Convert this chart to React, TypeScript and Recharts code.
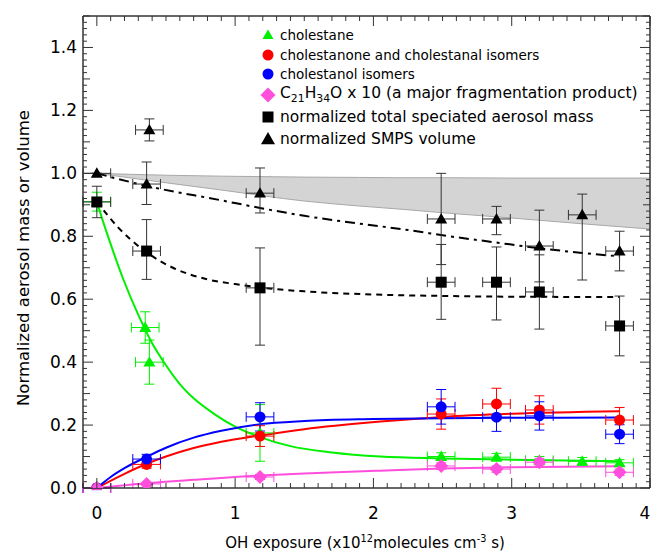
import React from 'react';
import { ComposedChart, Scatter, Line, Area, XAxis, YAxis, ErrorBar } from 'recharts';

const W = 652;
const H = 551;
const FONT = '"DejaVu Sans", Verdana, sans-serif';
const AXIS = '#333';
const GREEN = '#00f000';
const RED = '#ff0000';
const BLUE = '#0000ff';
const PINK = '#ff4fdc';
const BLACK = '#000';

// horizontal error of every measured point (OH exposure)
const XERR = 0.1;

// cholestane
const cholX = [0, 0.35, 0.38, 1.18, 2.49, 2.89, 3.2, 3.51, 3.78];
const cholY = [0.91, 0.51, 0.4, 0.175, 0.1, 0.098, 0.088, 0.085, 0.08];
const cholErr = [0.03, 0.05, 0.07, 0.09, 0.012, 0.012, 0.012, 0.012, 0.01];

// cholestanone and cholestanal isomers
const oneX = [0, 0.36, 1.18, 2.49, 2.89, 3.2, 3.78];
const oneY = [0, 0.075, 0.165, 0.235, 0.267, 0.248, 0.216];
const oneErr = [0.005, 0.012, 0.033, 0.048, 0.05, 0.045, 0.04];

// cholestanol isomers
const olX = [0, 0.36, 1.18, 2.49, 2.89, 3.2, 3.78];
const olY = [0, 0.092, 0.226, 0.258, 0.225, 0.229, 0.171];
const olErr = [0.005, 0.015, 0.045, 0.055, 0.045, 0.045, 0.03];

// C21H34O x 10
const fragX = [0, 0.36, 1.18, 2.49, 2.89, 3.2, 3.78];
const fragY = [0, 0.013, 0.035, 0.07, 0.06, 0.082, 0.05];
const fragErr = [0.005, 0.005, 0.008, 0.01, 0.01, 0.012, 0.01];

// normalized total speciated aerosol mass
const massX = [0, 0.36, 1.18, 2.49, 2.89, 3.2, 3.78];
const massY = [0.909, 0.753, 0.636, 0.654, 0.654, 0.623, 0.515];
const massErrLo = [0.05, 0.09, 0.182, 0.118, 0.12, 0.118, 0.095];
const massErrHi = [0.05, 0.1, 0.127, 0.12, 0.112, 0.118, 0.095];

// normalized SMPS volume
const volX = [0, 0.36, 0.38, 1.18, 2.49, 2.89, 3.2, 3.51, 3.78];
const volY = [1.0, 0.966, 1.138, 0.937, 0.855, 0.855, 0.769, 0.868, 0.753];
const volErrLo = [0, 0.065, 0.035, 0.063, 0.145, 0.05, 0.114, 0.207, 0.063];
const volErrHi = [0, 0.07, 0.035, 0.08, 0.145, 0.04, 0.114, 0.066, 0.063];

// fitted curves
const cholFitX = [0, 0.05, 0.1, 0.19, 0.3, 0.4, 0.5, 0.6, 0.7, 0.85, 1.0, 1.16, 1.4, 1.7, 2.05, 2.5, 3, 3.78];
const cholFitY = [0.91, 0.84, 0.775, 0.665, 0.55, 0.46, 0.39, 0.33, 0.285, 0.235, 0.195, 0.165, 0.133, 0.113, 0.1, 0.094, 0.09, 0.085];
const oneFitX = [0, 0.2, 0.36, 0.5, 0.7, 0.9, 1.18, 1.5, 2.05, 2.5, 3, 3.78];
const oneFitY = [0, 0.045, 0.077, 0.1, 0.127, 0.147, 0.167, 0.187, 0.211, 0.226, 0.236, 0.244];
const olFitX = [0, 0.1, 0.2, 0.36, 0.5, 0.7, 0.9, 1.18, 1.5, 2, 2.5, 3, 3.78];
const olFitY = [0, 0.035, 0.063, 0.099, 0.128, 0.16, 0.182, 0.203, 0.213, 0.219, 0.222, 0.223, 0.224];
const fragFitX = [0, 0.36, 0.7, 1.18, 1.5, 2.05, 2.5, 3, 3.78];
const fragFitY = [0, 0.015, 0.026, 0.04, 0.046, 0.055, 0.062, 0.066, 0.069];
const massFitX = [0, 0.15, 0.35, 0.55, 0.8, 1.0, 1.18, 1.5, 2, 2.55, 3, 3.78];
const massFitY = [0.91, 0.83, 0.752, 0.7, 0.663, 0.648, 0.637, 0.625, 0.615, 0.61, 0.608, 0.607];
const volFitX = [0, 0.36, 0.89, 1.18, 1.5, 1.9, 2.2, 2.55, 2.89, 3.2, 3.51, 3.78];
const volFitY = [1.0, 0.96, 0.915, 0.89, 0.865, 0.84, 0.823, 0.8, 0.78, 0.762, 0.747, 0.736];

// grey band
const bandX = [0, 0.5, 0.9, 1.5, 1.9, 2.2, 2.55, 3, 3.5, 4];
const bandLo = [1.0, 0.97, 0.947, 0.912, 0.896, 0.886, 0.873, 0.858, 0.84, 0.823];
const bandHi = [1.0, 0.994, 0.991, 0.988, 0.987, 0.986, 0.986, 0.985, 0.985, 0.985];

// axes
const xLabels = [0, 1, 2, 3, 4];
const yLabels = [0, 0.2, 0.4, 0.6, 0.8, 1.0, 1.2, 1.4];
const xTicks = Array.from({ length: 42 }, (_, i) => (i - 1) / 10);
const yTicks = Array.from({ length: 76 }, (_, i) => i / 50);

const pts = (xs: number[], ys: number[], ey: any[]) =>
  xs.map((x, i) => ({ x, y: ys[i], ex: XERR, ey: ey[i] }));
const curve = (xs: number[], ys: number[]) => xs.map((x, i) => ({ x, y: ys[i] }));

const cholData = pts(cholX, cholY, cholErr);
const oneData = pts(oneX, oneY, oneErr);
const olData = pts(olX, olY, olErr);
const fragData = pts(fragX, fragY, fragErr);
const massData = pts(massX, massY, massX.map((_, i) => [massErrLo[i], massErrHi[i]]));
const volData = pts(volX, volY, volX.map((_, i) => [volErrLo[i], volErrHi[i]]));
const bandData = bandX.map((x, i) => ({ x, band: [bandLo[i], bandHi[i]] }));

const near = (v: number, list: number[]) => list.some((l) => Math.abs(l - v) < 1e-6);

const XTick = (p: any) => {
  const { x, y, payload, top } = p;
  const v = payload.value;
  const major = near(v, xLabels);
  const len = major ? 10 : 5;
  const d = top ? 1 : -1;
  // the last label sits on the right edge, keep it inside the picture
  const lx = v === 4 ? x - 5 : x;
  return (
    <g>
      <line x1={x} x2={x} y1={y} y2={y + d * len} stroke={AXIS} strokeWidth={1} />
      {!top && major && (
        <text x={lx} y={y + 31} textAnchor="middle" fontSize={17} fontFamily={FONT} fill="#000">
          {v}
        </text>
      )}
    </g>
  );
};

const YTick = (p: any) => {
  const { x, y, payload, right } = p;
  const v = payload.value;
  const major = near(v, yLabels);
  const mid = Math.abs(v * 10 - Math.round(v * 10)) < 1e-6;
  const len = major ? 10 : mid ? 7 : 4;
  const d = right ? -1 : 1;
  return (
    <g>
      <line x1={x} x2={x + d * len} y1={y} y2={y} stroke={AXIS} strokeWidth={1} />
      {!right && major && (
        <text x={x - 6} y={y + 6} textAnchor="end" fontSize={17} fontFamily={FONT} fill="#000">
          {v.toFixed(1)}
        </text>
      )}
    </g>
  );
};

const triangle = (cx: number, cy: number, w: number, fill: string) => (
  <polygon
    points={`${cx},${cy - w * 0.5} ${cx - w / 2},${cy + w * 0.37} ${cx + w / 2},${cy + w * 0.37}`}
    fill={fill}
  />
);
const diamond = (cx: number, cy: number, r: number, fill: string) => (
  <polygon points={`${cx},${cy - r} ${cx + r},${cy} ${cx},${cy + r} ${cx - r},${cy}`} fill={fill} />
);

const legendRows = [
  { key: 'chol', label: 'cholestane', size: 13.5, top: 35 },
  { key: 'one', label: 'cholestanone and cholestanal isomers', size: 13.5, top: 55 },
  { key: 'ol', label: 'cholestanol isomers', size: 13.5, top: 74 },
  { key: 'frag', label: ' x 10 (a major fragmentation product)', size: 15.5, top: 95 },
  { key: 'mass', label: 'normalized total speciated aerosol mass', size: 15.5, top: 117 },
  { key: 'vol', label: 'normalized SMPS volume', size: 15.5, top: 139 },
];

const legendMarker = (key: string) => {
  switch (key) {
    case 'chol':
      return triangle(10, 10, 11, GREEN);
    case 'one':
      return <circle cx={10} cy={10} r={5.5} fill={RED} />;
    case 'ol':
      return <circle cx={10} cy={10} r={5.5} fill={BLUE} />;
    case 'frag':
      return diamond(10, 10, 7.5, PINK);
    case 'mass':
      return <rect x={4.5} y={4.5} width={11} height={11} fill={BLACK} />;
    default:
      return triangle(10, 10, 14, BLACK);
  }
};

export default function App() {
  return (
    <div style={{ position: 'absolute', left: 0, top: 0, width: W, height: H, background: '#fff', fontFamily: FONT }}>
      <ComposedChart width={W} height={H} margin={{ top: 15, right: 1, bottom: 0, left: 0 }}>
        <XAxis
          type="number"
          dataKey="x"
          domain={[-0.1, 4]}
          allowDataOverflow
          ticks={xTicks}
          interval={0}
          height={63}
          tickSize={0}
          tickMargin={0}
          tickLine={false}
          axisLine={{ stroke: AXIS, strokeWidth: 1.5 }}
          tick={(p: any) => <XTick {...p} />}
        />
        <XAxis
          xAxisId="top"
          orientation="top"
          type="number"
          dataKey="x"
          domain={[-0.1, 4]}
          allowDataOverflow
          ticks={xTicks}
          interval={0}
          height={1}
          tickSize={0}
          tickMargin={0}
          tickLine={false}
          axisLine={{ stroke: AXIS, strokeWidth: 1.5 }}
          tick={(p: any) => <XTick {...p} top />}
        />
        <YAxis
          type="number"
          domain={[0, 1.5]}
          allowDataOverflow
          ticks={yTicks}
          interval={0}
          width={83}
          tickSize={0}
          tickMargin={0}
          tickLine={false}
          axisLine={{ stroke: AXIS, strokeWidth: 1.5 }}
          tick={(p: any) => <YTick {...p} />}
        />
        <YAxis
          yAxisId="right"
          orientation="right"
          type="number"
          domain={[0, 1.5]}
          allowDataOverflow
          ticks={yTicks}
          interval={0}
          width={1}
          tickSize={0}
          tickMargin={0}
          tickLine={false}
          axisLine={{ stroke: AXIS, strokeWidth: 1.5 }}
          tick={(p: any) => <YTick {...p} right />}
        />

        <Area
          data={bandData}
          dataKey="band"
          type="monotone"
          fill="#d4d4d4"
          fillOpacity={1}
          stroke="#a8a8a8"
          strokeWidth={1}
          isAnimationActive={false}
        />

        <Line data={curve(volFitX, volFitY)} dataKey="y" type="monotone" stroke={BLACK} strokeWidth={2} strokeDasharray="10 5 3 5" dot={false} isAnimationActive={false} />
        <Line data={curve(massFitX, massFitY)} dataKey="y" type="monotone" stroke={BLACK} strokeWidth={2} strokeDasharray="6 5" dot={false} isAnimationActive={false} />
        <Line data={curve(cholFitX, cholFitY)} dataKey="y" type="monotone" stroke={GREEN} strokeWidth={2} dot={false} isAnimationActive={false} />
        <Line data={curve(oneFitX, oneFitY)} dataKey="y" type="monotone" stroke={RED} strokeWidth={2} dot={false} isAnimationActive={false} />
        <Line data={curve(olFitX, olFitY)} dataKey="y" type="monotone" stroke={BLUE} strokeWidth={2} dot={false} isAnimationActive={false} />
        <Line data={curve(fragFitX, fragFitY)} dataKey="y" type="monotone" stroke={PINK} strokeWidth={2} dot={false} isAnimationActive={false} />

        <Scatter data={cholData} dataKey="y" isAnimationActive={false} shape={(p: any) => triangle(p.cx, p.cy, 12, GREEN)}>
          <ErrorBar dataKey="ey" direction="y" width={5} stroke={GREEN} strokeWidth={1} isAnimationActive={false} />
          <ErrorBar dataKey="ex" direction="x" width={5} stroke={GREEN} strokeWidth={1} isAnimationActive={false} />
        </Scatter>
        <Scatter data={oneData} dataKey="y" isAnimationActive={false} shape={(p: any) => <circle cx={p.cx} cy={p.cy} r={5.5} fill={RED} />}>
          <ErrorBar dataKey="ey" direction="y" width={5} stroke={RED} strokeWidth={1} isAnimationActive={false} />
          <ErrorBar dataKey="ex" direction="x" width={5} stroke={RED} strokeWidth={1} isAnimationActive={false} />
        </Scatter>
        <Scatter data={olData} dataKey="y" isAnimationActive={false} shape={(p: any) => <circle cx={p.cx} cy={p.cy} r={5.5} fill={BLUE} />}>
          <ErrorBar dataKey="ey" direction="y" width={5} stroke={BLUE} strokeWidth={1} isAnimationActive={false} />
          <ErrorBar dataKey="ex" direction="x" width={5} stroke={BLUE} strokeWidth={1} isAnimationActive={false} />
        </Scatter>
        <Scatter data={fragData} dataKey="y" isAnimationActive={false} shape={(p: any) => diamond(p.cx, p.cy, 7, PINK)}>
          <ErrorBar dataKey="ey" direction="y" width={5} stroke={PINK} strokeWidth={1} isAnimationActive={false} />
          <ErrorBar dataKey="ex" direction="x" width={5} stroke={PINK} strokeWidth={1} isAnimationActive={false} />
        </Scatter>
        <Scatter data={massData} dataKey="y" isAnimationActive={false} shape={(p: any) => <rect x={p.cx - 5.5} y={p.cy - 5.5} width={11} height={11} fill={BLACK} />}>
          <ErrorBar dataKey="ey" direction="y" width={5} stroke={AXIS} strokeWidth={1} isAnimationActive={false} />
          <ErrorBar dataKey="ex" direction="x" width={5} stroke={AXIS} strokeWidth={1} isAnimationActive={false} />
        </Scatter>
        <Scatter data={volData} dataKey="y" isAnimationActive={false} shape={(p: any) => triangle(p.cx, p.cy, 12, BLACK)}>
          <ErrorBar dataKey="ey" direction="y" width={5} stroke={AXIS} strokeWidth={1} isAnimationActive={false} />
          <ErrorBar dataKey="ex" direction="x" width={5} stroke={AXIS} strokeWidth={1} isAnimationActive={false} />
        </Scatter>
      </ComposedChart>

      {legendRows.map((r) => (
        <div
          key={r.key}
          style={{ position: 'absolute', left: 258, top: r.top - 10, height: 20, display: 'flex', alignItems: 'center', whiteSpace: 'nowrap' }}
        >
          <svg width={20} height={20} style={{ marginRight: 2 }}>
            {legendMarker(r.key)}
          </svg>
          <span style={{ fontSize: r.size, color: '#000' }}>
            {r.key === 'frag' && (
              <>
                C<sub style={{ fontSize: '0.7em' }}>21</sub>H<sub style={{ fontSize: '0.7em' }}>34</sub>O
              </>
            )}
            {r.label}
          </span>
        </div>
      ))}

      <div
        style={{
          position: 'absolute',
          left: 23,
          top: 258,
          transform: 'translate(-50%, -50%) rotate(-90deg)',
          fontSize: 16.5,
          whiteSpace: 'nowrap',
          color: '#000',
        }}
      >
        Normalized aerosol mass or volume
      </div>
      <div
        style={{
          position: 'absolute',
          left: 365,
          top: 542,
          transform: 'translate(-50%, -50%)',
          fontSize: 15,
          whiteSpace: 'nowrap',
          color: '#000',
        }}
      >
        OH exposure (x10<sup style={{ fontSize: '0.65em' }}>12</sup>molecules cm<sup style={{ fontSize: '0.65em' }}>-3</sup> s)
      </div>
    </div>
  );
}
